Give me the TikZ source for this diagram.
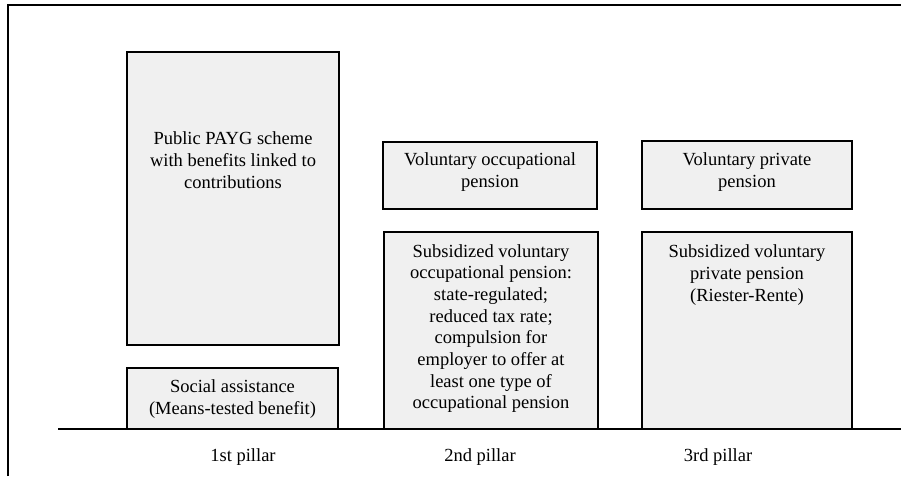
\documentclass[tikz,border=0pt]{standalone}
\usepackage{fontspec}
\setmainfont{Liberation Serif}
\usepackage{tikz}
\usetikzlibrary{
    positioning,
    calc
}
\usepackage{xcolor}
\definecolor{pillargray}{rgb}{0.94, 0.94, 0.94}
\tikzstyle{pillarbox} = [
    rectangle,
    draw=black,
    line width=1.6pt,
    fill=pillargray,
    inner sep=0pt
]
\tikzstyle{pillartext} = [
    align=center,
    inner sep=0pt,
    font=\fontsize{18.5}{21.7}\selectfont
]
\tikzstyle{pillarname} = [
    inner sep=0pt,
    font=\fontsize{18.5}{21.7}\selectfont
]

\begin{document}
\begin{tikzpicture}[x=1pt, y=-1pt]
    \useasboundingbox (0,0) rectangle (901,476);

    % Frame
    \draw[line width=1.8pt] (8,476) -- (8,5) -- (901,5);

    % 1st pillar
    \node[pillarbox, minimum width=212, minimum height=293] (payg) at (233,198.5) {};
    \node[pillartext] (paygtxt) at (233,160) {Public PAYG scheme\\with benefits linked to\\contributions};
    \node[pillarbox, minimum width=211, minimum height=61] (social) at (232.5,398.5) {};
    \node[pillartext] (socialtxt) at (232.5,399) {Social assistance\\(Means-tested benefit)};

    % 2nd pillar
    \node[pillarbox, minimum width=214, minimum height=67] (volocc) at (490,175.5) {};
    \node[pillartext] (volocctxt) at (490,172) {Voluntary occupational\\pension};
    \node[pillarbox, minimum width=214, minimum height=197] (subocc) at (491,330.5) {};
    \node[pillartext] (subocctxt) at (491,328.5) {Subsidized voluntary\\occupational pension:\\state-regulated;\\reduced tax rate;\\compulsion for\\employer to offer at\\least one type of\\occupational pension};

    % 3rd pillar
    \node[pillarbox, minimum width=210, minimum height=68] (volpriv) at (747,175) {};
    \node[pillartext] (volprivtxt) at (747,172) {Voluntary private\\pension};
    \node[pillarbox, minimum width=210, minimum height=197] (subpriv) at (747,330.5) {};
    \node[pillartext] (subprivtxt) at (747,275) {Subsidized voluntary\\private pension\\(Riester-Rente)};

    % Ground line
    \coordinate (groundleft) at (58,429);
    \coordinate (groundright) at (901,429);
    \draw[line width=2.4pt] (groundleft) -- (groundright);

    % Pillar names
    \node[pillarname] (first) at (243,457) {1st pillar};
    \node[pillarname] (second) at (480,457) {2nd pillar};
    \node[pillarname] (third) at (718,457) {3rd pillar};
\end{tikzpicture}
\end{document}
